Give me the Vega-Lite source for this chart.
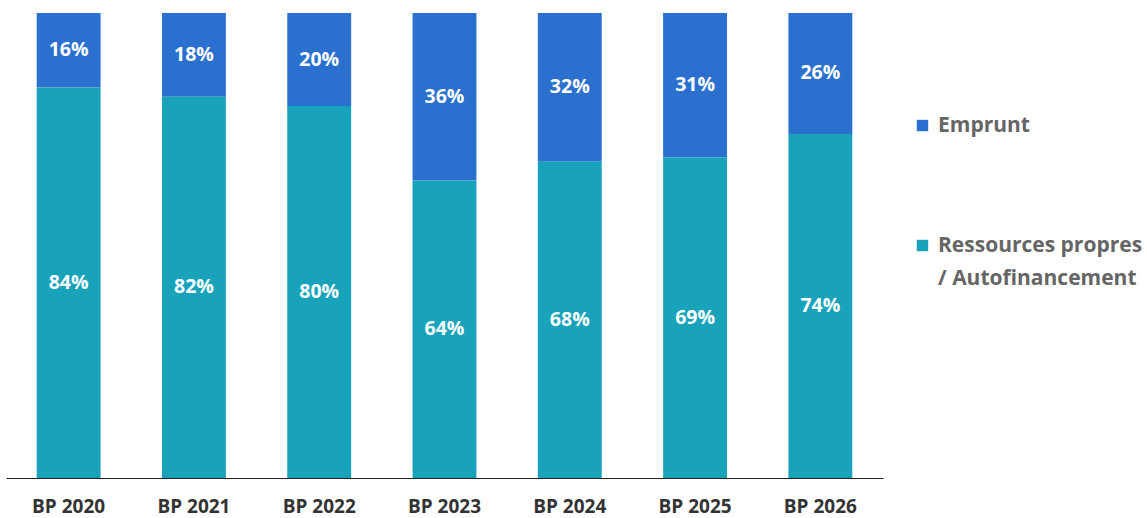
{
  "$schema": "https://vega.github.io/schema/vega-lite/v6.json",
  "width": 877,
  "height": 465,
  "autosize": "none",
  "padding": {"left": 6, "top": 13, "right": 264, "bottom": 40},
  "background": "white",
  "config": {"view": {"stroke": null}, "font": "Open Sans"},
  "data": {
    "values": [
      {"year": "BP 2020", "series": "Emprunt", "value": 16},
      {"year": "BP 2020", "series": "Ressources propres / Autofinancement", "value": 84},
      {"year": "BP 2021", "series": "Emprunt", "value": 18},
      {"year": "BP 2021", "series": "Ressources propres / Autofinancement", "value": 82},
      {"year": "BP 2022", "series": "Emprunt", "value": 20},
      {"year": "BP 2022", "series": "Ressources propres / Autofinancement", "value": 80},
      {"year": "BP 2023", "series": "Emprunt", "value": 36},
      {"year": "BP 2023", "series": "Ressources propres / Autofinancement", "value": 64},
      {"year": "BP 2024", "series": "Emprunt", "value": 32},
      {"year": "BP 2024", "series": "Ressources propres / Autofinancement", "value": 68},
      {"year": "BP 2025", "series": "Emprunt", "value": 31},
      {"year": "BP 2025", "series": "Ressources propres / Autofinancement", "value": 69},
      {"year": "BP 2026", "series": "Emprunt", "value": 26},
      {"year": "BP 2026", "series": "Ressources propres / Autofinancement", "value": 74}
    ]
  },
  "transform": [
    {"calculate": "datum.series == 'Emprunt' ? 1 : 0", "as": "ord"},
    {"stack": "value", "groupby": ["year"], "sort": [{"field": "ord", "order": "ascending"}], "as": ["y0", "y1"]},
    {"calculate": "(datum.y0 + datum.y1) / 2", "as": "mid"},
    {"calculate": "datum.value + '%'", "as": "label"}
  ],
  "encoding": {
    "x": {
      "field": "year", "type": "nominal", "sort": null, "title": null,
      "scale": {"paddingInner": 0.49, "paddingOuter": 0.245},
      "axis": {
        "labelAngle": 0, "ticks": false, "labelPadding": 19, "labelFontSize": 19,
        "labelFontWeight": "bold", "labelColor": "#333333", "domainColor": "#222222",
        "domainWidth": 1.2, "grid": false
      }
    }
  },
  "layer": [
    {
      "mark": {"type": "bar"},
      "encoding": {
        "y": {"field": "y0", "type": "quantitative", "scale": {"domain": [0, 100], "nice": false}, "axis": null},
        "y2": {"field": "y1"},
        "color": {
          "field": "series", "type": "nominal",
          "scale": {"domain": ["Emprunt", "Ressources propres / Autofinancement"], "range": ["#2B70CE", "#19A3BB"]},
          "legend": {
            "title": null, "orient": "none", "legendX": 906, "legendY": 102,
            "symbolType": "square", "symbolSize": 130, "symbolStrokeWidth": 0,
            "labelFontSize": 21, "labelFontWeight": "bold", "labelColor": "#656565",
            "labelLimit": 300, "rowPadding": 98, "labelOffset": 5,
            "labelExpr": "datum.label == 'Ressources propres / Autofinancement' ? ['Ressources propres', '/ Autofinancement'] : datum.label",
            "encode": {"labels": {"update": {"lineHeight": {"value": 33}}}}
          }
        }
      }
    },
    {
      "mark": {"type": "text", "color": "white", "fontSize": 19.5, "fontWeight": "bold"},
      "encoding": {
        "y": {"field": "mid", "type": "quantitative", "scale": {"domain": [0, 100], "nice": false}},
        "text": {"field": "label"}
      }
    }
  ]
}
